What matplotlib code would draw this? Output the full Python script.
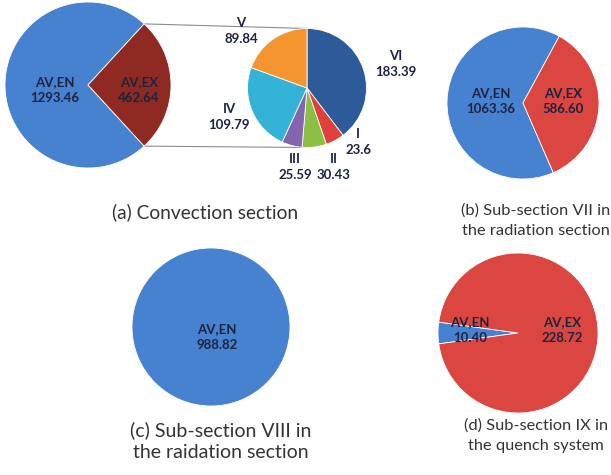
import numpy as np
import matplotlib
matplotlib.use("Agg")
import matplotlib.pyplot as plt

plt.rcParams['font.family'] = ['Lato', 'DejaVu Sans']

# (a) convection section
conv_labels = ['AV,EN', 'AV,EX']
conv_values = [1293.46, 462.64]
# breakdown of AV,EX in the convection section
sub_labels = ['VI', 'I', 'II', 'III', 'IV', 'V']
sub_values = [183.39, 23.6, 30.43, 25.59, 109.79, 89.84]
# (b) sub-section VII
rad7_labels = ['AV,EN', 'AV,EX']
rad7_values = [1063.36, 586.60]
# (c) sub-section VIII
rad8_labels = ['AV,EN']
rad8_values = [988.82]
# (d) sub-section IX
quench_labels = ['AV,EN', 'AV,EX']
quench_values = [10.40, 228.72]

W, H = 611, 475
fig = plt.figure(figsize=(W / 100, H / 100), dpi=100)
ax = fig.add_axes([0, 0, 1, 1])

BLUE = '#4682CF'
DARKRED = '#8E2A22'
RED = '#DC4640'
sub_colors = ['#2D5B9A', '#E0403A', '#8DBF45', '#8466B0', '#34B2D8', '#F49530']
TXT = '#1c2340'
TITLE = '#333333'


def Y(y):
    return H - y


def pie(vals, colors, c, r, start, counterclock=True):
    ax.pie(vals, colors=colors, center=(c[0], Y(c[1])), radius=r,
           startangle=start, counterclock=counterclock,
           wedgeprops=dict(linewidth=0.6, edgecolor='white'))


def lab(x, y, s, size=9.5):
    ax.text(x, Y(y), s, ha='center', va='center', fontsize=size,
            fontweight='bold', color=TXT, linespacing=1.45)


def title(x, y, s, size):
    ax.text(x, Y(y), s, ha='center', va='center', fontsize=size,
            color=TITLE, linespacing=25 / (size / 0.72 * 0.97))


# (a)
ca, ra = (88, 85), 83
tot = sum(conv_values)
ex_deg = 360 * conv_values[1] / tot
pie(conv_values, [BLUE, DARKRED], ca, ra, ex_deg / 2)
lab(55, 90, f"{conv_labels[0]}\n{conv_values[0]:.2f}")
lab(139, 90, f"{conv_labels[1]}\n{conv_values[1]:.2f}")

# pie of pie
cs, rs = (307, 88), 59.5
pie(sub_values, sub_colors, cs, rs, 90, counterclock=False)
for sgn in (1, -1):
    a = np.deg2rad(sgn * ex_deg / 2)
    x0 = ca[0] + ra * np.cos(a)
    y0 = Y(ca[1]) + ra * np.sin(a)
    ax.plot([x0, cs[0]], [y0, Y(cs[1]) + sgn * rs], color='#8c8c8c',
            lw=0.8, zorder=0)
sub_pos = [(396, 64), (358, 142), (334, 167), (295, 167), (229, 117), (241, 31)]
for (x, y), name, v in zip(sub_pos, sub_labels, sub_values):
    lab(x, y, f"{name}\n{v:g}")

title(205, 212, '(a) Convection section', 13.8)

# (b)
tot = sum(rad7_values)
ex_deg = 360 * rad7_values[1] / tot
pie(rad7_values, [BLUE, RED], (523, 103), 76, ex_deg / 2 - 2.5)
lab(491, 101, f"{rad7_labels[0]}\n{rad7_values[0]:.2f}")
lab(563, 101, f"{rad7_labels[1]}\n{rad7_values[1]:.2f}")
title(536, 221, '(b) Sub-section VII in\nthe radiation section', 11.8)

# (c)
pie(rad8_values, [BLUE], (211, 327), 79, 90)
lab(217, 337, f"{rad8_labels[0]}\n{rad8_values[0]:.2f}")
title(221, 441, '(c) Sub-section VIII in\nthe raidation section', 14)

# (d)
tot = sum(quench_values)
en_deg = 360 * quench_values[0] / tot
pie(quench_values, [BLUE, RED], (518, 333), 80, 180 - en_deg / 2)
lab(470, 330, f"{quench_labels[0]}\n{quench_values[0]:.2f}")
lab(562, 330, f"{quench_labels[1]}\n{quench_values[1]:.2f}")
title(536, 436, '(d) Sub-section IX in\nthe quench system', 11.8)

ax.set_xlim(0, W)
ax.set_ylim(0, H)
ax.set_aspect('equal')
ax.axis('off')

fig.savefig('out.png', dpi=100)
